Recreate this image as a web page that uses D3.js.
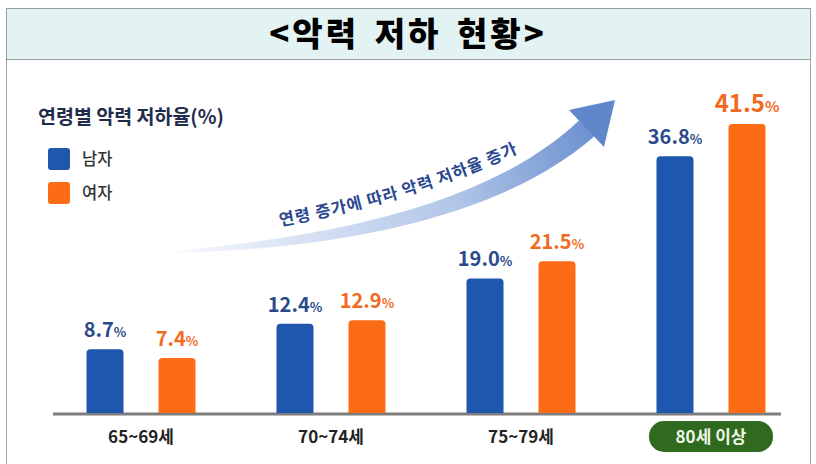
<!DOCTYPE html>
<html>
<head>
<meta charset="utf-8">
<script src="https://cdn.jsdelivr.net/npm/d3@7"></script>
<style>
  body { margin: 0; background: #fff; }
  svg text { font-family: "Noto Sans CJK KR", "Noto Sans", sans-serif; }
</style>
</head>
<body>
<div id="chart"></div>
<script>
// data
const ageGroups = ["65~69세", "70~74세", "75~79세", "80세 이상"];
const maleRates = [8.7, 12.4, 19.0, 36.8];
const femaleRates = [7.4, 12.9, 21.5, 41.5];
const seriesNames = ["남자", "여자"];
const titleText = "<악력 저하 현황>";
const axisTitle = "연령별 악력 저하율(%)";
const trendText = "연령 증가에 따라 악력 저하율 증가";
const highlightGroup = "80세 이상";

class BarVis {

    constructor(_parentElement) {
        this.parentElement = _parentElement;
        this.initVis();
    }

    initVis() {
        let vis = this;

        vis.width = 816;
        vis.height = 464;
        vis.colors = {male: "#1f56ae", female: "#fc6c15", maleText: "#2a4a8c", femaleText: "#f26a1f"};

        vis.svg = d3.select("#" + vis.parentElement).append("svg")
            .attr("width", vis.width)
            .attr("height", vis.height);

        // groups along x, two bars in each
        vis.x = d3.scaleBand()
            .domain(ageGroups)
            .range([46, 806]);

        vis.xSub = d3.scaleBand()
            .domain(["male", "female"])
            .range([-54.5, 54.5])
            .paddingInner(0.486)
            .paddingOuter(0);

        // bars do not start at zero height in the picture, hence the small negative domain start
        vis.y = d3.scaleLinear()
            .domain([-0.75, 41.5])
            .range([414, 124]);

        vis.wrangleData();
    }

    wrangleData() {
        let vis = this;

        vis.rows = ageGroups.map((g, i) => ({group: g, male: maleRates[i], female: femaleRates[i]}));
        vis.bars = [];
        vis.rows.forEach(r => {
            vis.bars.push({group: r.group, key: "male", value: r.male});
            vis.bars.push({group: r.group, key: "female", value: r.female});
        });
        vis.maxValue = d3.max(vis.bars, d => d.value);

        vis.updateVis();
    }

    updateVis() {
        let vis = this;
        let svg = vis.svg;

        // frame and title band
        svg.append("rect")
            .attr("x", 6.5).attr("y", 8.5)
            .attr("width", 804).attr("height", 51)
            .attr("fill", "#e3f2f3");

        svg.append("rect")
            .attr("x", 6.5).attr("y", 8.5)
            .attr("width", 804).attr("height", 470)
            .attr("fill", "none")
            .attr("stroke", "#444")
            .attr("stroke-dasharray", "1,1");

        svg.append("line")
            .attr("x1", 6.5).attr("x2", 810.5)
            .attr("y1", 59.5).attr("y2", 59.5)
            .attr("stroke", "#444")
            .attr("stroke-dasharray", "1,1");

        svg.append("text")
            .attr("x", 408).attr("y", 46)
            .attr("text-anchor", "middle")
            .attr("font-size", 33)
            .attr("font-weight", 900)
            .attr("letter-spacing", 3)
            .attr("word-spacing", 5)
            .attr("fill", "#000")
            .text(titleText);

        // axis title + legend
        svg.append("text")
            .attr("x", 38).attr("y", 124)
            .attr("font-size", 19.5)
            .attr("font-weight", 700)
            .attr("fill", "#1f2c4c")
            .text(axisTitle);

        let legend = svg.selectAll(".legend")
            .data(seriesNames)
            .enter().append("g")
            .attr("class", "legend")
            .attr("transform", (d, i) => "translate(48," + (148 + i * 34) + ")");

        legend.append("rect")
            .attr("width", 22).attr("height", 22)
            .attr("rx", 3)
            .attr("fill", (d, i) => i === 0 ? vis.colors.male : vis.colors.female);

        legend.append("text")
            .attr("x", 34).attr("y", 17)
            .attr("font-size", 16.5)
            .attr("font-weight", 500)
            .attr("fill", "#333")
            .text(d => d);

        // trend arrow: tapered curve with a gradient
        let defs = svg.append("defs");
        let grad = defs.append("linearGradient")
            .attr("id", "arrowGrad")
            .attr("gradientUnits", "userSpaceOnUse")
            .attr("x1", 173).attr("y1", 252)
            .attr("x2", 615).attr("y2", 100);
        grad.append("stop").attr("offset", 0).attr("stop-color", "#f7f9fd");
        grad.append("stop").attr("offset", 0.6).attr("stop-color", "#b2c6e8");
        grad.append("stop").attr("offset", 1).attr("stop-color", "#5f87ca");

        let p0 = [173, 252], p1 = [470, 235], p2 = [587, 128];
        let bez = t => [
            (1 - t) * (1 - t) * p0[0] + 2 * t * (1 - t) * p1[0] + t * t * p2[0],
            (1 - t) * (1 - t) * p0[1] + 2 * t * (1 - t) * p1[1] + t * t * p2[1]
        ];
        let tangent = t => {
            let dx = 2 * (1 - t) * (p1[0] - p0[0]) + 2 * t * (p2[0] - p1[0]);
            let dy = 2 * (1 - t) * (p1[1] - p0[1]) + 2 * t * (p2[1] - p1[1]);
            let len = Math.sqrt(dx * dx + dy * dy);
            return [dx / len, dy / len];
        };
        let upper = [], lower = [];
        d3.range(0, 1.0001, 0.02).forEach(t => {
            let c = bez(t), tg = tangent(t);
            let hw = 11 * Math.pow(t, 0.6);
            upper.push([c[0] + tg[1] * hw, c[1] - tg[0] * hw]);
            lower.push([c[0] - tg[1] * hw, c[1] + tg[0] * hw]);
        });
        let shaft = upper.concat(lower.reverse());
        svg.append("path")
            .attr("d", d3.line()(shaft) + "Z")
            .attr("fill", "url(#arrowGrad)");

        svg.append("path")
            .attr("d", "M569,110 L615,100 L604,147 Z")
            .attr("fill", "#5f87ca");

        defs.append("path")
            .attr("id", "trendPath")
            .attr("d", "M280,226 Q418,201 524,150");

        svg.append("text")
            .attr("font-size", 16.5)
            .attr("font-weight", 700)
            .attr("fill", "#2a4790")
            .attr("letter-spacing", 1)
            .append("textPath")
            .attr("href", "#trendPath")
            .text(trendText);

        // baseline
        svg.append("line")
            .attr("x1", 53).attr("x2", 781)
            .attr("y1", vis.y(-0.75)).attr("y2", vis.y(-0.75))
            .attr("stroke", "#7d7d7d")
            .attr("stroke-width", 3);

        // bars
        let bw = vis.xSub.bandwidth();
        let barX = d => vis.x(d.group) + vis.x.bandwidth() / 2 + vis.xSub(d.key);
        svg.selectAll(".bar")
            .data(vis.bars)
            .enter().append("path")
            .attr("class", "bar")
            .attr("fill", d => d.key === "male" ? vis.colors.male : vis.colors.female)
            .attr("d", d => {
                let x0 = barX(d), y0 = vis.y(d.value), yb = vis.y(-0.75) - 1, r = 4;
                return "M" + x0 + "," + yb +
                    "V" + (y0 + r) + "Q" + x0 + "," + y0 + " " + (x0 + r) + "," + y0 +
                    "H" + (x0 + bw - r) + "Q" + (x0 + bw) + "," + y0 + " " + (x0 + bw) + "," + (y0 + r) +
                    "V" + yb + "Z";
            });

        // value labels
        let labels = svg.selectAll(".val")
            .data(vis.bars)
            .enter().append("text")
            .attr("class", "val")
            .attr("x", d => barX(d) + bw / 2)
            .attr("y", d => vis.y(d.value) - 12)
            .attr("text-anchor", "middle")
            .attr("font-weight", 700)
            .attr("font-size", d => d.value === vis.maxValue ? 24 : 20)
            .attr("fill", d => d.key === "male" ? vis.colors.maleText : vis.colors.femaleText);
        labels.append("tspan").text(d => d.value.toFixed(1));
        labels.append("tspan")
            .attr("font-size", d => d.value === vis.maxValue ? 15 : 13)
            .text("%");

        // x labels, last group in a green pill
        let xl = svg.selectAll(".xlab")
            .data(ageGroups)
            .enter().append("g")
            .attr("class", "xlab")
            .attr("transform", d => "translate(" + (vis.x(d) + vis.x.bandwidth() / 2) + ",0)");

        xl.filter(d => d === highlightGroup).append("rect")
            .attr("x", -62).attr("y", 421)
            .attr("width", 124).attr("height", 31)
            .attr("rx", 15)
            .attr("fill", "#2f6a1e");

        xl.append("text")
            .attr("y", 443)
            .attr("text-anchor", "middle")
            .attr("font-size", 17)
            .attr("font-weight", 700)
            .attr("fill", d => d === highlightGroup ? "#eef5e8" : "#222")
            .text(d => d);
    }
}

new BarVis("chart");
</script>
</body>
</html>
